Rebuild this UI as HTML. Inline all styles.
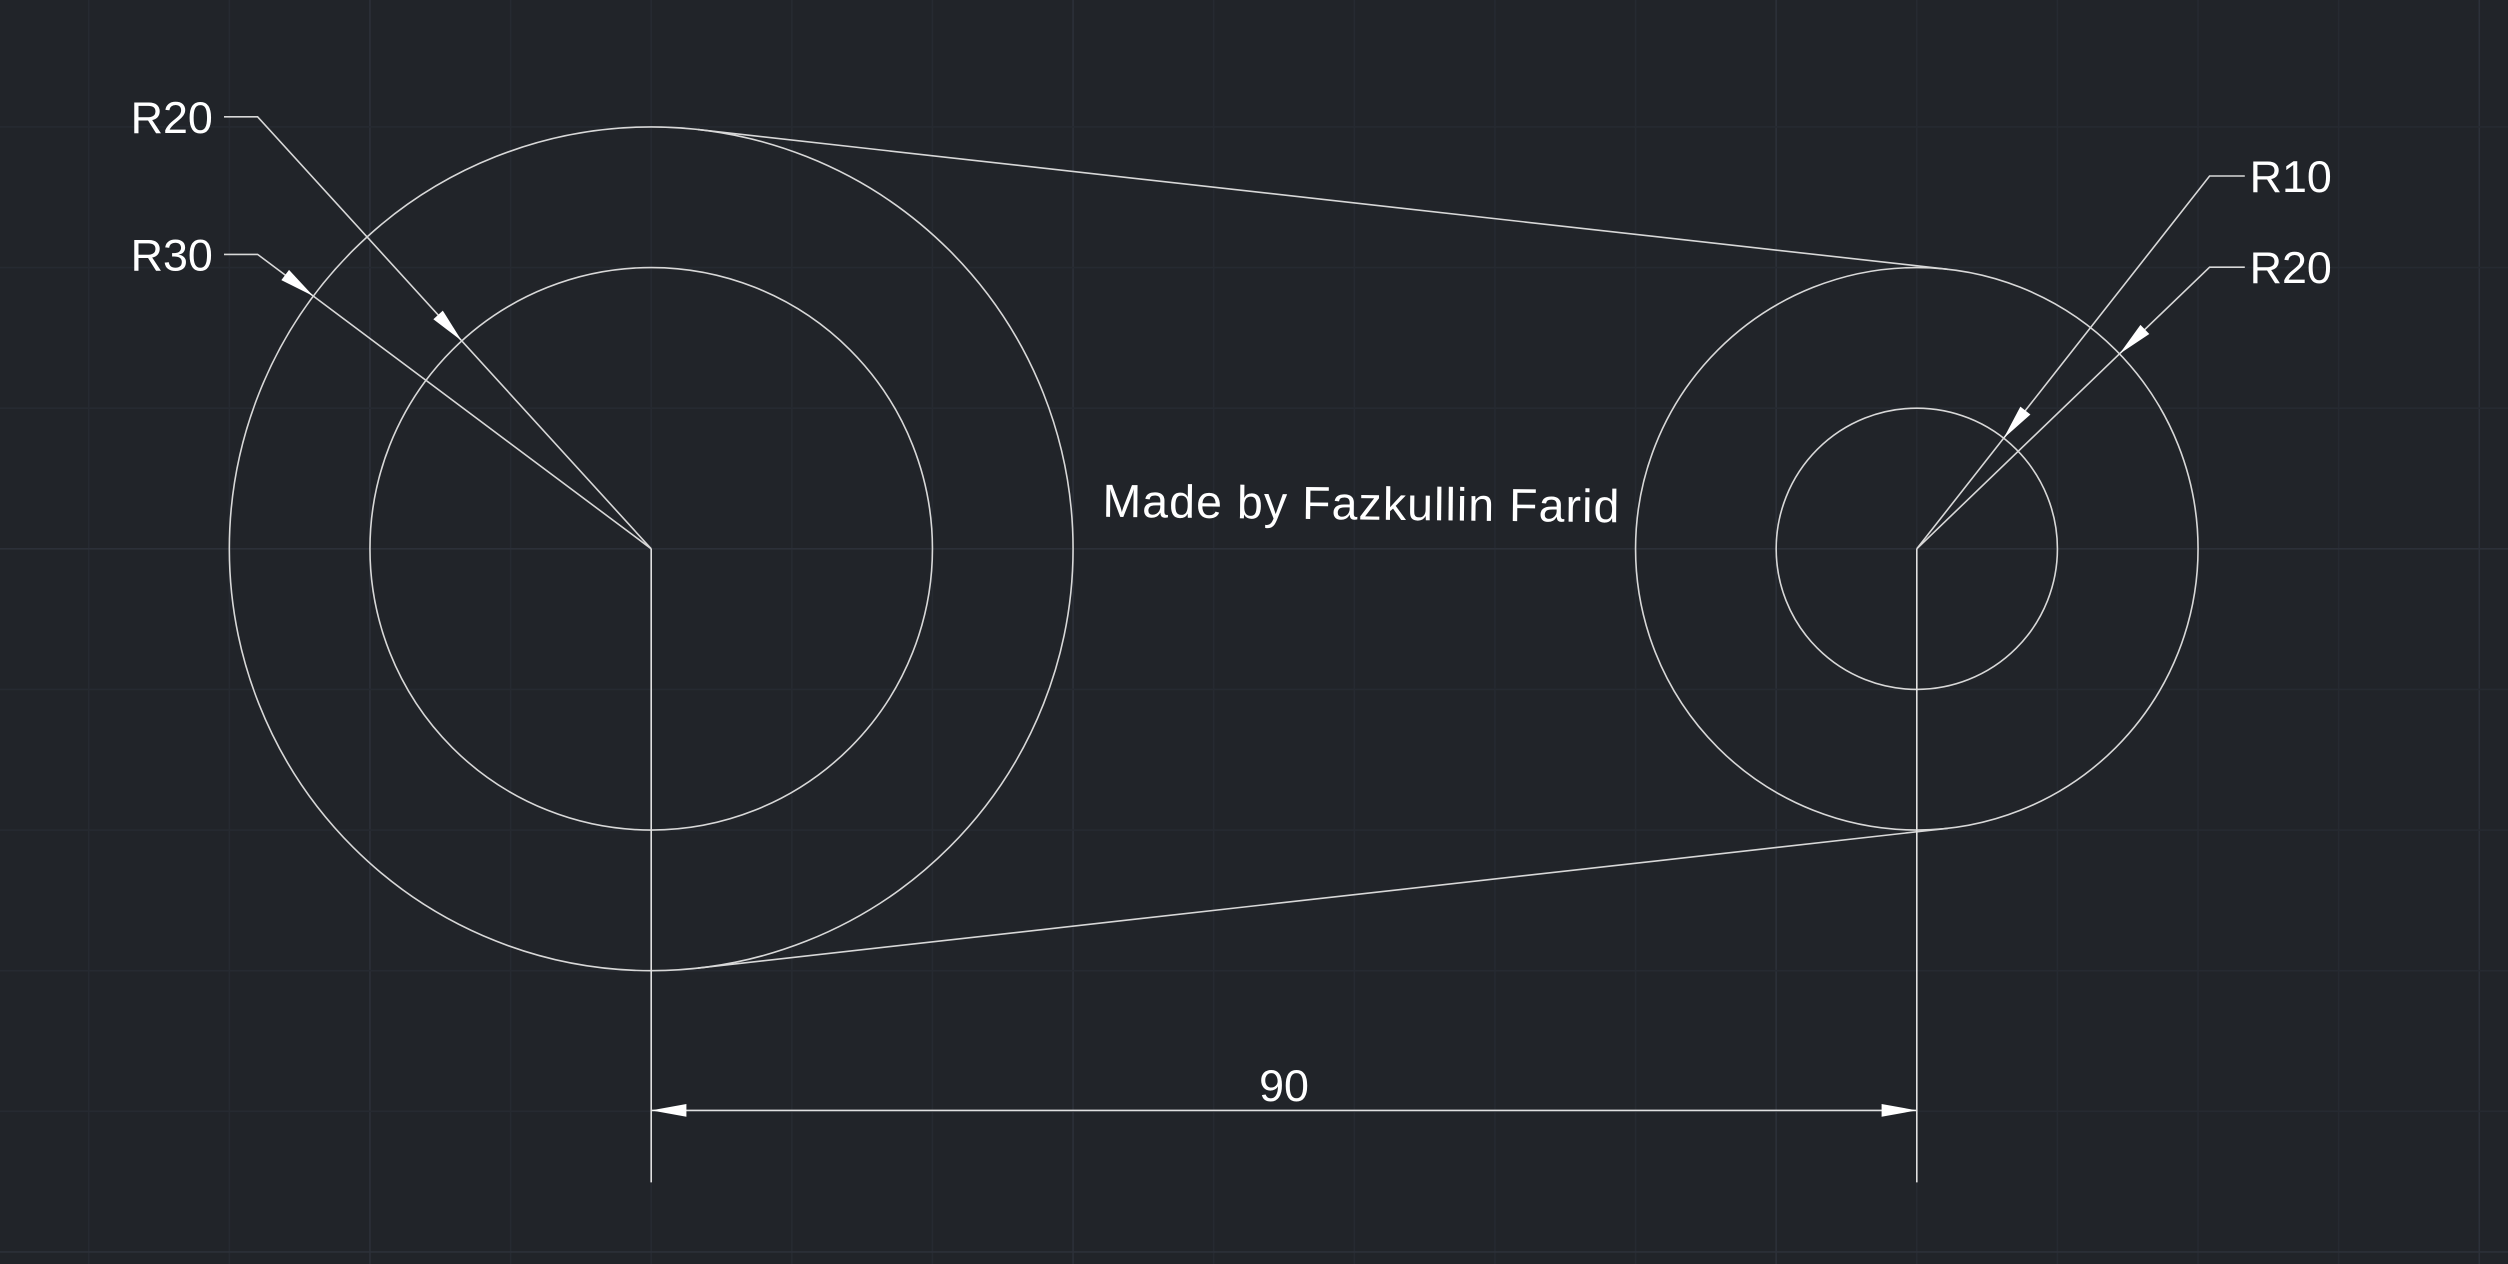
<!DOCTYPE html>
<html><head><meta charset="utf-8"><style>
html,body{margin:0;padding:0;background:#212429;}
svg{display:block;}
text{font-family:"Liberation Sans",sans-serif;fill:#ffffff;}
</style></head><body>
<svg id="cad" width="2508" height="1264" viewBox="0 0 1567.5 790" xmlns="http://www.w3.org/2000/svg">
<rect width="1567.5" height="790" fill="#212429"/>
<g id="grid"></g>
<g id="geom" fill="none" stroke="#d8d8d8" stroke-width="1"></g>
<g id="ann"></g>
<text x="689" y="323" font-size="29" textLength="323" lengthAdjust="spacing" transform="rotate(0.6 689 323)">Made by Fazkullin Farid</text>
</svg>
<script>
// data (drawing units)
const centerDistance = [90];
const leftRadii = [30, 20];
const rightRadii = [20, 10];
const leftLabels = ["R20", "R30"];
const rightLabels = ["R10", "R20"];
const dimLabels = ["90"];

const NS = "http://www.w3.org/2000/svg";
const U = 791 / 90;           // px per unit
const C1 = [407, 343];
const sx = v => C1[0] + v * U; // x axis function
const sr = v => v * U;
const C2 = [sx(centerDistance[0]), 343];

function mk(tag, attrs, parent) {
  const e = document.createElementNS(NS, tag);
  for (const k in attrs) e.setAttribute(k, attrs[k]);
  parent.appendChild(e);
  return e;
}
const grid = document.getElementById('grid');
const geom = document.getElementById('geom');
const ann = document.getElementById('ann');

// grid: minor every 10 units, major every 50
for (let k = -10; k <= 30; k++) {
  const x = C1[0] + (k * 10 - 20) * U + 2 * 10 * U - 2 * 10 * U;
  const xx = C1[0] + k * 10 * U;
  if (xx < 0 || xx > 1567.5) continue;
  const major = ((k + 2) % 5 === 0);
  const l = mk('line', {x1: xx, y1: 0, x2: xx, y2: 790, stroke: major ? '#2c3039' : '#262a31', 'stroke-width': 1}, grid);
  
  
}
for (let k = -10; k <= 10; k++) {
  const yy = C1[1] + k * 10 * U;
  if (yy < 0 || yy > 790) continue;
  const major = (k % 5 === 0);
  const l = mk('line', {x1: 0, y1: yy, x2: 1567.5, y2: yy, stroke: major ? '#2c3039' : '#262a31', 'stroke-width': 1}, grid);
  
  
}

// circles
leftRadii.forEach(r => {
  const c = mk('circle', {cx: C1[0], cy: C1[1], r: sr(r)}, geom);
  
  
});
rightRadii.forEach(r => {
  const c = mk('circle', {cx: C2[0], cy: C2[1], r: sr(r)}, geom);
  
  
});

// external tangents
const R1 = sr(leftRadii[0]), R2 = sr(rightRadii[0]);
const d = C2[0] - C1[0];
const s = (R1 - R2) / d, co = Math.sqrt(1 - s * s);
[-1, 1].forEach(sg => {
  const l = mk('line', {x1: C1[0] + R1 * s, y1: C1[1] + sg * R1 * co, x2: C2[0] + R2 * s, y2: C2[1] + sg * R2 * co}, geom);
  
  
});

function arrow(tx, ty, ux, uy, name) {
  // tip at (tx,ty), pointing in direction (ux,uy)
  const L = 22, W = 4;
  const bx = tx - ux * L, by = ty - uy * L;
  const p = mk('polygon', {points: `${tx},${ty} ${bx - uy * W},${by + ux * W} ${bx + uy * W},${by - ux * W}`, fill: '#ffffff', stroke: 'none'}, ann);
  
  
}

// leaders
function leader(center, r, label, ly, side, name) {
  const lx = side < 0 ? 161 : 1381;
  const tx = side < 0 ? 140 : 1403;
  const dx = center[0] - lx, dy = center[1] - ly, len = Math.hypot(dx, dy);
  const ux = dx / len, uy = dy / len;
  const pl = mk('polyline', {points: `${tx},${ly} ${lx},${ly} ${center[0]},${center[1]}`, fill: 'none', stroke: '#d8d8d8', 'stroke-width': 1}, ann);
  
  
  arrow(center[0] - ux * sr(r), center[1] - uy * sr(r), ux, uy, name + '-arrow');
  const t = mk('text', {x: side < 0 ? 133 : 1406, y: ly + 10, 'font-size': 28, 'text-anchor': side < 0 ? 'end' : 'start'}, ann);
  t.textContent = label;
  
  
}
leader(C1, leftRadii[1], leftLabels[0], 73, -1, 'left-r20');
leader(C1, leftRadii[0], leftLabels[1], 159, -1, 'left-r30');
leader(C2, rightRadii[1], rightLabels[0], 110, 1, 'right-r10');
leader(C2, rightRadii[0], rightLabels[1], 167, 1, 'right-r20');

// dimension
[C1[0], C2[0]].forEach((x, i) => {
  const l = mk('line', {x1: x, y1: 343, x2: x, y2: 739, stroke: '#e0e0e0', 'stroke-width': 1}, ann);
  
  
});
const dl = mk('line', {x1: C1[0], y1: 694, x2: C2[0], y2: 694, stroke: '#e0e0e0', 'stroke-width': 1}, ann);


arrow(C1[0], 694, -1, 0, 'dimension-arrow-left');
arrow(C2[0], 694, 1, 0, 'dimension-arrow-right');
const dt = mk('text', {x: (C1[0] + C2[0]) / 2, y: 688, 'font-size': 28, 'text-anchor': 'middle'}, ann);
dt.textContent = dimLabels[0];


</script>
</body></html>
